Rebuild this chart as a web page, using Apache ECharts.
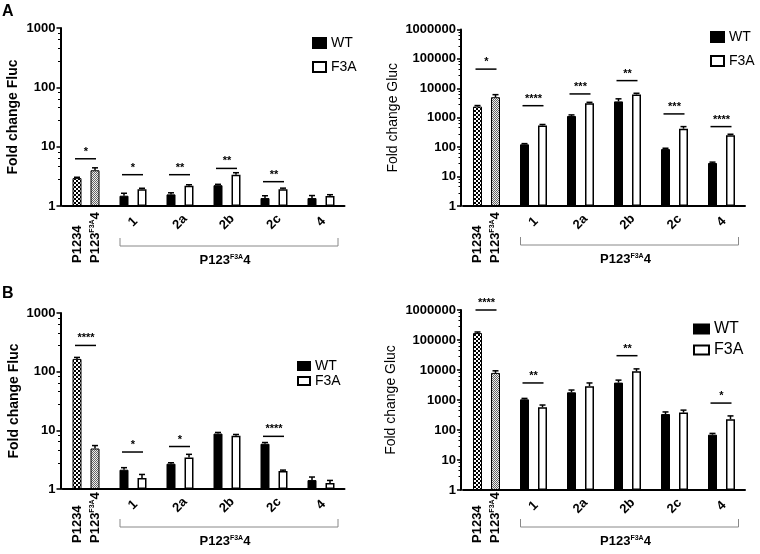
<!DOCTYPE html>
<html><head><meta charset="utf-8">
<script src="https://cdn.jsdelivr.net/npm/echarts@6/dist/echarts.min.js"></script>
<style>html,body{margin:0;padding:0;background:#fff}#c{width:760px;height:554px}</style>
</head><body><div id="c"></div><script>
// ---------- data ----------
const categories = ['', '1', '2a', '2b', '2c', '4'];
const pairLabelWT = ['P1234'];
const pairLabelF3A = ['P123', 'F3A', '4']; // P123^F3A 4
const groupLabel = ['P123', 'F3A', '4'];
const seriesNames = ['WT', 'F3A'];

// Panel A - Fluc
const aFlucWT = [2.95, 1.49, 1.57, 2.24, 1.36, 1.36];
const aFlucWTErr = [3.05, 1.64, 1.67, 2.32, 1.49, 1.50];
const aFlucF3A = [4.0, 1.91, 2.2, 3.37, 1.91, 1.47];
const aFlucF3AErr = [4.4, 1.99, 2.28, 3.64, 2.0, 1.55];
const aFlucSigCat = [0, 1, 2, 3, 4];
const aFlucSigLevel = [6.25, 3.37, 3.37, 4.3, 2.57];
const aFlucSigText = ['*', '*', '**', '**', '**'];

// Panel A - Gluc
const aGlucWT = [2400, 125, 1150, 3600, 86, 29];
const aGlucWTErr = [2600, 132, 1250, 4400, 92, 31];
const aGlucF3A = [5000, 550, 3100, 6200, 425, 255];
const aGlucF3AErr = [6100, 590, 3350, 6800, 500, 275];
const aGlucSigCat = [0, 1, 2, 3, 4, 5];
const aGlucSigLevel = [45000, 2570, 6450, 18300, 1350, 500];
const aGlucSigText = ['*', '****', '***', '**', '***', '****'];

// Panel B - Fluc
const bFlucWT = [165, 2.13, 2.7, 8.8, 5.9, 1.42];
const bFlucWTErr = [175, 2.31, 2.8, 9.2, 6.2, 1.6];
const bFlucF3A = [4.9, 1.54, 3.45, 8.1, 2.03, 1.26];
const bFlucF3AErr = [5.5, 1.77, 3.9, 8.5, 2.1, 1.4];
const bFlucSigCat = [0, 1, 2, 4];
const bFlucSigLevel = [280, 4.27, 5.3, 7.9];
const bFlucSigText = ['****', '*', '*', '****'];

// Panel B - Gluc
const bGlucWT = [170000, 1050, 1800, 3800, 340, 70];
const bGlucWTErr = [185000, 1130, 2150, 4600, 400, 77];
const bGlucF3A = [8000, 570, 2900, 9000, 380, 230];
const bGlucF3AErr = [9400, 680, 3700, 10900, 460, 295];
const bGlucSigCat = [0, 1, 3, 5];
const bGlucSigLevel = [1000000, 3700, 30000, 790];
const bGlucSigText = ['****', '**', '**', '*'];

// ---------- patterns ----------
function checker(size, dark, light) {
  const c = document.createElement('canvas');
  c.width = size * 2; c.height = size * 2;
  const g = c.getContext('2d');
  g.fillStyle = light; g.fillRect(0, 0, size * 2, size * 2);
  g.fillStyle = dark;
  g.fillRect(0, 0, size, size); g.fillRect(size, size, size, size);
  return { image: c, repeat: 'repeat' };
}
const patWT = checker(2, '#000', '#fff');
const patF3A = checker(1, '#666', '#eee');

const FONT = 'Liberation Sans, Arial, sans-serif';
const rich = {
  b: { fontSize: 13, fontWeight: 'bold', fontFamily: FONT, color: '#000' },
  s: { fontSize: 7, fontWeight: 'bold', fontFamily: FONT, color: '#000', verticalAlign: 'top' }
};

const panels = [
  { grid: { left: 62.5, top: 28, width: 282, height: 178 }, max: 1000, name: 'Fold change Fluc', bold: true, nameGap: 40,
    wt: aFlucWT, wtErr: aFlucWTErr, f3a: aFlucF3A, f3aErr: aFlucF3AErr, sc: aFlucSigCat, sl: aFlucSigLevel, st: aFlucSigText,
    legend: { left: 312, top: 36, itemWidth: 13, itemHeight: 10, itemGap: 10, fontSize: 14 }, bracketDy: 40, pairDist: 57 },
  { grid: { left: 463, top: 29.5, width: 282, height: 176.5 }, max: 1000000, name: 'Fold change Gluc', bold: false, nameGap: 61,
    wt: aGlucWT, wtErr: aGlucWTErr, f3a: aGlucF3A, f3aErr: aGlucF3AErr, sc: aGlucSigCat, sl: aGlucSigLevel, st: aGlucSigText,
    legend: { left: 710, top: 30, itemWidth: 13, itemHeight: 10, itemGap: 10, fontSize: 14 }, bracketDy: 39, pairDist: 57 },
  { grid: { left: 62.5, top: 313, width: 282, height: 176 }, max: 1000, name: 'Fold change Fluc', bold: true, nameGap: 39,
    wt: bFlucWT, wtErr: bFlucWTErr, f3a: bFlucF3A, f3aErr: bFlucF3AErr, sc: bFlucSigCat, sl: bFlucSigLevel, st: bFlucSigText,
    legend: { left: 297, top: 359, itemWidth: 12, itemHeight: 8, itemGap: 1, fontSize: 14 }, bracketDy: 38, pairDist: 54 },
  { grid: { left: 463, top: 310, width: 282, height: 180 }, max: 1000000, name: 'Fold change Gluc', bold: false, nameGap: 63,
    wt: bGlucWT, wtErr: bGlucWTErr, f3a: bGlucF3A, f3aErr: bGlucF3AErr, sc: bGlucSigCat, sl: bGlucSigLevel, st: bGlucSigText,
    legend: { left: 693, top: 321, itemWidth: 15, itemHeight: 9, itemGap: 5, fontSize: 16 }, bracketDy: 37, pairDist: 53 }
];

const BAR_OFF = 9;
const grid = [], xAxis = [], yAxis = [], series = [], legend = [];

panels.forEach((p, i) => {
  grid.push(Object.assign({ containLabel: false }, p.grid));
  xAxis.push({
    type: 'category', gridIndex: i, data: categories,
    axisLine: { lineStyle: { color: '#000', width: 2 } },
    axisTick: { alignWithLabel: true, length: 4, lineStyle: { color: '#000', width: 1.5 } },
    axisLabel: { interval: 0, rotate: 45, align: 'center', verticalAlign: 'middle', margin: 16,
      fontSize: 13, fontWeight: 'bold', fontFamily: FONT, color: '#000' }
  });
  yAxis.push({
    type: 'log', logBase: 10, gridIndex: i, min: 1, max: p.max, interval: 1, offset: 2,
    name: p.name, nameLocation: 'middle', nameGap: p.nameGap,
    nameTextStyle: { fontSize: 14, fontWeight: p.bold ? 'bold' : 'normal', fontFamily: FONT, color: '#000' },
    axisLine: { show: true, lineStyle: { color: '#000', width: 2 } },
    axisTick: { show: true, length: 4, lineStyle: { color: '#000', width: 1.5 } },
    minorTick: { show: true, splitNumber: 5, length: 2.5, lineStyle: { color: '#000', width: 1 } },
    splitLine: { show: false },
    axisLabel: { margin: 5, fontSize: 13, fontWeight: 'bold', fontFamily: FONT, color: '#000',
      formatter: v => String(Math.round(v)) }
  });
  const pairLabel = (fmt) => ({ show: true, position: 'bottom', distance: p.pairDist, rotate: 90, align: 'left',
    verticalAlign: 'middle', formatter: fmt, rich: rich });
  const wtData = p.wt.map((v, k) => k === 0 ? {
    value: v, itemStyle: { color: patWT, borderColor: '#000', borderWidth: 1 },
    label: pairLabel('{b|' + pairLabelWT[0] + '}')
  } : v);
  const f3aData = p.f3a.map((v, k) => k === 0 ? {
    value: v, itemStyle: { color: patF3A, borderColor: '#000', borderWidth: 1 },
    label: pairLabel('{b|' + pairLabelF3A[0] + '}{s|' + pairLabelF3A[1] + '}{b|' + pairLabelF3A[2] + '}')
  } : v);
  series.push({ name: 'WT', type: 'bar', xAxisIndex: i, yAxisIndex: i, barWidth: 9, barGap: '100%',
    itemStyle: { color: '#000', borderColor: '#000', borderWidth: 1 }, data: wtData });
  series.push({ name: 'F3A', type: 'bar', xAxisIndex: i, yAxisIndex: i, barWidth: 9, barGap: '100%',
    itemStyle: { color: '#fff', borderColor: '#000', borderWidth: 1.5 }, data: f3aData });

  // error bars
  const errData = [];
  p.wt.forEach((v, k) => errData.push([k, -1, v, p.wtErr[k]]));
  p.f3a.forEach((v, k) => errData.push([k, 1, v, p.f3aErr[k]]));
  series.push({
    name: 'err' + i, type: 'custom', xAxisIndex: i, yAxisIndex: i, clip: false, z: 3,
    encode: { x: 0, y: 2 }, data: errData,
    renderItem: (params, api) => {
      const a = api.coord([api.value(0), api.value(2)]);
      const b = api.coord([api.value(0), api.value(3)]);
      const x = a[0] + api.value(1) * BAR_OFF;
      return { type: 'group', children: [
        { type: 'line', shape: { x1: x, y1: a[1], x2: x, y2: b[1] }, style: { stroke: '#000', lineWidth: 1.5 } },
        { type: 'line', shape: { x1: x - 3, y1: b[1], x2: x + 3, y2: b[1] }, style: { stroke: '#000', lineWidth: 1.5 } }
      ] };
    }
  });
  // significance
  const sigData = p.sc.map((c, k) => [c, p.sl[k]]);
  const st = p.st;
  series.push({
    name: 'sig' + i, type: 'custom', xAxisIndex: i, yAxisIndex: i, clip: false, z: 3,
    encode: { x: 0, y: 1 }, data: sigData,
    renderItem: (params, api) => {
      const a = api.coord([api.value(0), api.value(1)]);
      return { type: 'group', children: [
        { type: 'line', shape: { x1: a[0] - 11, y1: a[1], x2: a[0] + 10, y2: a[1] }, style: { stroke: '#000', lineWidth: 1.5 } },
        { type: 'text', x: a[0], y: a[1] - 7, style: { text: st[params.dataIndex], fill: '#000',
          font: 'bold 11px ' + FONT, align: 'center', verticalAlign: 'middle' } }
      ] };
    }
  });
  legend.push({
    data: seriesNames, orient: 'vertical', left: p.legend.left, top: p.legend.top, icon: 'rect',
    itemWidth: p.legend.itemWidth, itemHeight: p.legend.itemHeight, itemGap: p.legend.itemGap, padding: 0,
    selectedMode: false,
    textStyle: { fontSize: p.legend.fontSize, fontFamily: FONT, color: '#000' }
  });
});

const chart = echarts.init(document.getElementById('c'));
chart.setOption({
  animation: false, backgroundColor: '#fff',
  grid, xAxis, yAxis, series, legend
});

// brackets under the P123F3A4 groups, tied to the category axis
const extra = [];
panels.forEach((p, i) => {
  const x1 = chart.convertToPixel({ xAxisIndex: i }, 1) - 13;
  const x2 = chart.convertToPixel({ xAxisIndex: i }, 5) + 17;
  const y0 = chart.convertToPixel({ yAxisIndex: i }, 1);
  const y = y0 + p.bracketDy;
  extra.push({ type: 'polyline', shape: { points: [[x1, y - 8], [x1, y], [x2, y], [x2, y - 8]] },
    style: { stroke: '#888', lineWidth: 1, fill: null } });
  extra.push({ type: 'text', x: (x1 + x2) / 2 - 4, y: y + 14,
    style: { text: '{b|' + groupLabel[0] + '}{s|' + groupLabel[1] + '}{b|' + groupLabel[2] + '}', rich: rich,
      align: 'center', verticalAlign: 'middle' } });
});
chart.setOption({ graphic: extra.concat([
  { type: 'text', left: 2, top: 4, style: { text: 'A', font: 'bold 16px ' + FONT, fill: '#000' } },
  { type: 'text', left: 2, top: 286, style: { text: 'B', font: 'bold 16px ' + FONT, fill: '#000' } }
]) });
</script></body></html>
